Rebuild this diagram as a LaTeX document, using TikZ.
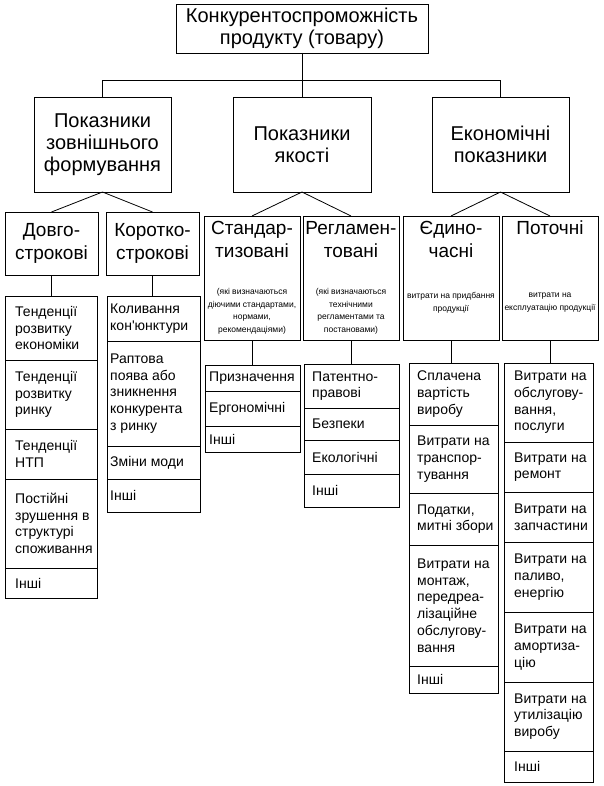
\documentclass[tikz,border=0pt]{standalone}
\usepackage{fontspec}
\setmainfont{Liberation Sans}
\newcommand\fbig{\fontsize{20}{22}\selectfont}
\newcommand\fttl{\fontsize{19}{23}\selectfont}
\newcommand\flist{\fontsize{14}{16.7}\selectfont}
\newcommand\fsub{\fontsize{8.5}{12.8}\selectfont}
\tikzset{
  frame/.style={draw, line width=0.8pt, inner sep=0pt, outer sep=0pt},
  ltext/.style={font=\flist, align=left, inner sep=0pt},
  ttl/.style={font=\fttl, align=center, inner sep=0pt},
  subt/.style={font=\fsub, align=center, inner sep=0pt},
  conn/.style={line width=0.8pt},
}
% empty framed box
\newcommand\bx[5]{\node[frame, minimum width={(#4)-(#2)}, minimum height={(#5)-(#3)}] (#1) at ({((#2)+(#4))/2},{((#3)+(#5))/2}) {};}
% framed box with centred text
\newcommand\cbx[7]{\node[frame, minimum width={(#4)-(#2)}, minimum height={(#5)-(#3)}, align=center, font=#6] (#1) at ({((#2)+(#4))/2},{((#3)+(#5))/2}) {#7};}
% list cell with left text
\newcommand\lc[7]{%
  \node[frame, minimum width={(#4)-(#2)}, minimum height={(#5)-(#3)}] (#1) at ({((#2)+(#4))/2},{((#3)+(#5))/2}) {};
  \node[ltext, anchor=west] (#1t) at ([xshift=#6pt]#1.west) {#7};}
\begin{document}
\begin{tikzpicture}[x=1pt, y=-1pt]
\useasboundingbox (0,0) rectangle (604,786);
% level 1 and 2
\cbx{top}{176}{4}{428}{53}{\fbig}{Конкурентоспроможність\\продукту (товару)}
\cbx{a}{34}{97}{171}{192}{\fbig}{Показники\\зовнішнього\\формування}
\cbx{b}{233}{97}{371}{192}{\fbig}{Показники\\якості}
\cbx{c}{432}{97}{569}{192}{\fbig}{Економічні\\показники}
\coordinate (bar) at (0,80);
\draw[conn] (top.south) -- (b.north);
\draw[conn] (a.north) -- (a.north |- bar) -- (c.north |- bar) -- (c.north);
% level 3 headings
\cbx{a1}{5}{212}{98}{275}{\fttl}{Довго-\\строкові}
\cbx{a2}{106}{212}{199}{275}{\fttl}{Коротко-\\строкові}
\bx{b1}{204}{216}{300}{340}
\bx{b2}{303}{216}{399}{340}
\bx{c1}{403}{216}{499}{340}
\bx{c2}{502}{216}{598}{340}
\node[ttl, anchor=north] (b1h) at ([yshift=-5pt]b1.north) {Стандар-\\тизовані};
\node[ttl, anchor=north] (b2h) at ([yshift=-5pt]b2.north) {Регламен-\\товані};
\node[ttl, anchor=north] (c1h) at ([yshift=-5pt]c1.north) {Єдино-\\часні};
\node[ttl, anchor=north] (c2h) at ([yshift=-5pt]c2.north) {Поточні};
\node[subt, anchor=north] (b1s) at (b1.center |- 0,288) {(які визначаються\\діючими стандартами,\\нормами,\\рекомендаціями)};
\node[subt, anchor=north] (b2s) at (b2.center |- 0,288) {(які визначаються\\технічними\\регламентами та\\постановами)};
\node[subt, anchor=north] (c1s) at (c1.center |- 0,292) {витрати на придбання\\продукції};
\node[subt, anchor=north] (c2s) at (c2.center |- 0,293) {витрати на\\експлуатацію продукції};
\draw[conn] (a.south) -- (a1.north);
\draw[conn] (a.south) -- (a2.north);
\draw[conn] (b.south) -- (b1.north);
\draw[conn] (b.south) -- (b2.north);
\draw[conn] (c.south) -- (c1.north);
\draw[conn] (c.south) -- (c2.north);
% column 1
\lc{p1}{5}{296}{97}{360}{10}{Тенденції\\розвитку\\економіки}
\lc{p2}{5}{360}{97}{429}{10}{Тенденції\\розвитку\\ринку}
\lc{p3}{5}{429}{97}{479}{10}{Тенденції\\НТП}
\lc{p4}{5}{479}{97}{568}{10}{Постійні\\зрушення в\\структурі\\споживання}
\lc{p5}{5}{568}{97}{598}{10}{Інші}
% column 2
\lc{q1}{107}{296}{200}{341}{3}{Коливання\\кон\textquotesingle юнктури}
\lc{q2}{107}{341}{200}{446}{3}{Раптова\\поява або\\зникнення\\конкурента\\з ринку}
\lc{q3}{107}{446}{200}{479}{3}{Зміни моди}
\lc{q4}{107}{479}{200}{512}{3}{Інші}
% column 3
\lc{r1}{205}{365}{300}{391}{4}{Призначення}
\lc{r2}{205}{391}{300}{426}{4}{Ергономічні}
\lc{r3}{205}{426}{300}{452}{4}{Інші}
% column 4
\lc{s1}{304}{364}{399}{408}{8}{Патентно-\\правові}
\lc{s2}{304}{408}{399}{440}{8}{Безпеки}
\lc{s3}{304}{440}{399}{474}{8}{Екологічні}
\lc{s4}{304}{474}{399}{507}{8}{Інші}
% column 5
\lc{t1}{409}{363}{498}{425}{8}{Сплачена\\вартість\\виробу}
\lc{t2}{409}{425}{498}{493}{8}{Витрати на\\транспор-\\тування}
\lc{t3}{409}{493}{498}{545}{8}{Податки,\\митні збори}
\lc{t4}{409}{545}{498}{666}{8}{Витрати на\\монтаж,\\передреа-\\лізаційне\\обслугову-\\вання}
\lc{t5}{409}{666}{498}{693}{8}{Інші}
% column 6
\lc{u1}{504}{363}{593}{442}{10}{Витрати на\\обслугову-\\вання,\\послуги}
\lc{u2}{504}{442}{593}{492}{10}{Витрати на\\ремонт}
\lc{u3}{504}{492}{593}{542}{10}{Витрати на\\запчастини}
\lc{u4}{504}{542}{593}{612}{10}{Витрати на\\паливо,\\енергію}
\lc{u5}{504}{612}{593}{682}{10}{Витрати на\\амортиза-\\цію}
\lc{u6}{504}{682}{593}{751}{10}{Витрати на\\утилізацію\\виробу}
\lc{u7}{504}{751}{593}{782}{10}{Інші}
% heading to list connectors
\draw[conn] (a1.south) -- (a1.south |- p1.north);
\draw[conn] (a2.south) -- (a2.south |- q1.north);
\draw[conn] (b1.south) -- (b1.south |- r1.north);
\draw[conn] (b2.south) -- (b2.south |- s1.north);
\draw[conn] (c1.south) -- (c1.south |- t1.north);
\draw[conn] (c2.south) -- (c2.south |- u1.north);
\end{tikzpicture}
\end{document}
